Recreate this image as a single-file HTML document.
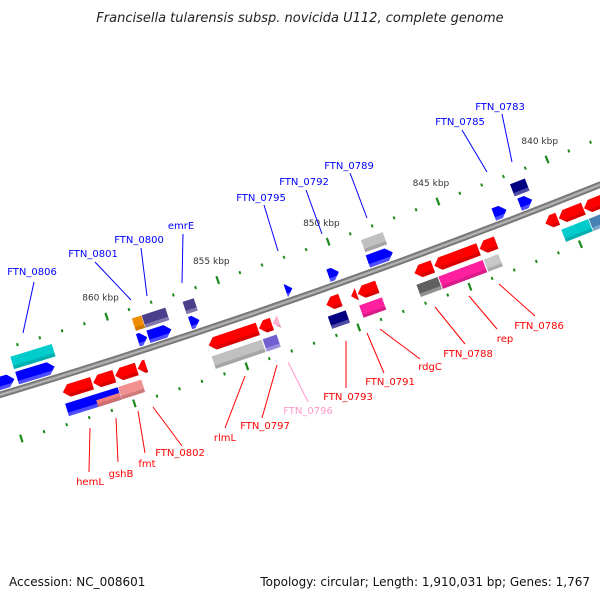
<!DOCTYPE html>
<html><head><meta charset="utf-8"><style>
html,body{margin:0;padding:0;background:#fff;}
svg{display:block;font-family:"DejaVu Sans","Liberation Sans",sans-serif;}
</style></head><body>
<svg id="chart" width="600" height="600" viewBox="0 0 600 600" xmlns="http://www.w3.org/2000/svg">
<text x="300" y="22" text-anchor="middle" font-size="13" font-style="italic" fill="#222">Francisella tularensis subsp. novicida U112, complete genome</text>
<g id="ticks"></g>
<g id="backbone"></g>
<g id="genes"></g>
<g id="labels"></g>
<text x="9" y="586" font-size="12" fill="#111">Accession: NC_008601</text>
<text x="590" y="586" text-anchor="end" font-size="12" fill="#111">Topology: circular; Length: 1,910,031 bp; Genes: 1,767</text>
</svg>
<script>
// ---- data ----
const geneStarts = [866.0,864.43,859.04,858.57,856.7,852.4,850.47,848.69,842.97,841.79,
  864.44,859.0,858.56,856.72,848.66,841.86,
  862.75,861.40,860.42,859.42,856.25,854.0,853.38,850.97,849.86,849.56,847.0,846.1,844.05,841.06,840.45,839.3,
  862.8,861.5,860.45,856.28,854.0,851.08,849.67,847.09,846.1,844.05,840.53,839.28];
const geneEnds = [864.55,862.76,858.62,857.54,856.28,852.1,850.0,847.56,842.39,841.22,
  862.59,858.58,857.5,856.22,847.67,841.18,
  861.45,860.46,859.46,859.04,854.05,853.42,853.1,850.34,849.6,848.68,846.17,844.1,843.3,840.5,839.33,838.0,
  860.47,860.47,859.42,854.05,853.38,850.28,848.65,846.14,844.1,843.39,839.31,838.0];
const geneRows = [-11,-11,-11,-11,-11,-11,-11,-11,-11,-11,
  -27,-27,-27,-27,-27,-27,
  16,16,16,16,16,16,16,16,16,16,16,16,16,16,16,16,
  34,37,34,34,34,34,34,34,34,34,34,34];
const geneDirs = [1,1,1,1,1,1,1,1,1,1, 0,0,0,0,0,0,
  -1,-1,-1,-1,-1,-1,-1,-1,-1,-1,-1,-1,-1,-1,-1,-1, 0,0,0,0,0,0,0,0,0,0,0,0];
const geneColors = ["#0000ff","#0000ff","#0000ff","#0000ff","#0000ff","#0000ff","#0000ff","#0000ff","#0000ff","#0000ff",
  "#00cccc","#f08c00","#4b3f8c","#4b3f8c","#c0c0c0","#000080",
  "#ff0000","#ff0000","#ff0000","#ff0000","#ff0000","#ff0000","#ffb0d0","#ff0000","#ff0000","#ff0000","#ff0000","#ff0000","#ff0000","#ff0000","#ff0000","#ff0000",
  "#0000ff","#f08080","#f09090","#c0c0c0","#7060d0","#000080","#ff20a0","#606060","#ff20a0","#c8c8c8","#00cccc","#4682b4"];
const majorTicks = [840,845,850,855,860];
const tickLabels = ["840 kbp","845 kbp","850 kbp","855 kbp","860 kbp"];
// ---- geometry ----
const CX=-2060, CY=-6452, R0=7150, K0=860, A0=72.25, DEG_PER_KBP=0.18851;
function pos(k,r){const a=(A0+(k-K0)*DEG_PER_KBP)*Math.PI/180;return [CX+r*Math.cos(a),CY+r*Math.sin(a)];}
function pts(list){return list.map(p=>p[0].toFixed(2)+","+p[1].toFixed(2)).join(" ");}
const NS="http://www.w3.org/2000/svg";
// backbone
const bb=document.getElementById("backbone");
[[6.5,"#777"],[3,"#999"],[1.2,"#bbb"]].forEach((s,i)=>{
  const p=document.createElementNS(NS,"path");
  const a=pos(870,R0-(i==2?-1.5:0)),b=pos(834,R0-(i==2?-1.5:0));
  const rr=R0-(i==2?-1.5:0);
  p.setAttribute("d",`M${a[0]},${a[1]} A${rr},${rr} 0 0 0 ${b[0]},${b[1]}`);
  p.setAttribute("fill","none");p.setAttribute("stroke",s[1]);p.setAttribute("stroke-width",s[0]);
  if(i==2){p.setAttribute("transform","translate(0,-1.5)");}
  
  
  bb.appendChild(p);
});
// ticks
const tg=document.getElementById("ticks");
[7107,7198].forEach(rr=>{
  for(let k=834;k<=870;k++){
    const major=(k%5===0);const len=major?8:3;
    const a=pos(k,rr-len/2),b=pos(k,rr+len/2);
    const l=document.createElementNS(NS,"line");
    l.setAttribute("x1",a[0]);l.setAttribute("y1",a[1]);l.setAttribute("x2",b[0]);l.setAttribute("y2",b[1]);
    l.setAttribute("stroke","#1a8a1a");l.setAttribute("stroke-width",major?2.2:2);
    
    
    tg.appendChild(l);
  }
});
majorTicks.forEach((k,i)=>{
  const p=pos(k,7087);
  const t=document.createElementNS(NS,"text");
  t.setAttribute("x",p[0]);t.setAttribute("y",p[1]+3);t.setAttribute("text-anchor","middle");
  t.setAttribute("font-size","9");t.setAttribute("fill","#333");
  t.textContent=tickLabels[i];
  
  
  tg.appendChild(t);
});
// genes
const gg=document.getElementById("genes");
for(let i=0;i<geneStarts.length;i++){
  const a=geneStarts[i],b=geneEnds[i],r=R0+geneRows[i],d=geneDirs[i];
  const h=(geneRows[i]===37)?3.5:6.5;
  const hl=Math.min(0.27,Math.abs(a-b));
  let poly;
  if(d===1){poly=[pos(a,r-h),pos(b+hl,r-h),pos(b,r),pos(b+hl,r+h),pos(a,r+h)];}
  else if(d===-1){poly=[pos(b,r-h),pos(a-hl,r-h),pos(a,r),pos(a-hl,r+h),pos(b,r+h)];}
  else{poly=[pos(a,r-h),pos(b,r-h),pos(b,r+h),pos(a,r+h)];}
  const pg=document.createElementNS(NS,"polygon");
  pg.setAttribute("points",pts(poly));pg.setAttribute("fill",geneColors[i]);
  
  
  gg.appendChild(pg);
  // shading stripe on outer edge
  const s0=r+h-3.5;
  let sp;
  if(d===1){sp=[pos(a,s0),pos(b+hl*0.27,s0),pos(b+hl,r+h),pos(a,r+h)];}
  else if(d===-1){sp=[pos(b,s0),pos(a-hl*0.27,s0),pos(a-hl,r+h),pos(b,r+h)];}
  else{sp=[pos(a,s0),pos(b,s0),pos(b,r+h),pos(a,r+h)];}
  const dark=["#0000ff","#000080","#4b3f8c","#7060d0","#4682b4","#606060"].includes(geneColors[i]);
  const st=document.createElementNS(NS,"polygon");
  st.setAttribute("points",pts(sp));st.setAttribute("fill",dark?"rgba(255,255,255,0.3)":"rgba(0,0,0,0.14)");
  
  
  gg.appendChild(st);
}
// labels
const labelNames=["FTN_0806","FTN_0801","FTN_0800","emrE","FTN_0795","FTN_0792","FTN_0789","FTN_0785","FTN_0783",
  "hemL","gshB","fmt","FTN_0802","rlmL","FTN_0797","FTN_0796","FTN_0793","FTN_0791","rdgC","FTN_0788","rep","FTN_0786"];
const labelX=[32,93,139,181,261,304,349,460,500, 90,121,147,180,225,265,308,348,390,430,468,505,539];
const labelY=[275,257,243,229,201,185,169,125,110, 485,477,467,456,441,429,414,400,385,370,357,342,329];
const lineSeg=[[34,282,23,333],[95,262,131,300],[141,248,147,296],[183,234,182,283],[264,205,278,251],[306,190,322,234],[350,173,367,218],[462,130,487,172],[502,114,512,162],
  [90,428,89,472],[116,418,118,462],[138,411,145,453],[153,407,182,446],[245,376,225,428],[277,365,262,418],[288,362,308,402],[346,341,346,388],[367,333,384,373],[380,329,420,359],[435,307,465,344],[469,296,497,329],[499,284,535,316]];
const lg=document.getElementById("labels");
labelNames.forEach((n,i)=>{
  const col=i<9?"#0000ff":(n==="FTN_0796"?"#ff99cc":"#ff0000");
  const s=lineSeg[i];
  const l=document.createElementNS(NS,"line");
  l.setAttribute("x1",s[0]);l.setAttribute("y1",s[1]);l.setAttribute("x2",s[2]);l.setAttribute("y2",s[3]);
  l.setAttribute("stroke",col);l.setAttribute("stroke-width","1");
  
  
  lg.appendChild(l);
  const t=document.createElementNS(NS,"text");
  t.setAttribute("x",labelX[i]);t.setAttribute("y",labelY[i]);t.setAttribute("text-anchor","middle");
  t.setAttribute("font-size","10");t.setAttribute("fill",col);
  t.textContent=n;
  
  
  lg.appendChild(t);
});
</script>
</body></html>
